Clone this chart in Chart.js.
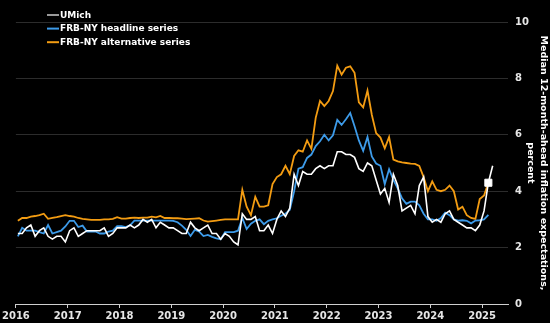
<!DOCTYPE html>
<html>
<head>
<meta charset="utf-8">
<script src="https://cdn.jsdelivr.net/npm/chart.js@4.4.1/dist/chart.umd.min.js"></script>
<style>
  html, body { margin: 0; padding: 0; background: #000; }
  canvas { display: block; }
</style>
</head>
<body>
<canvas id="inflChart" width="550" height="323"></canvas>
<script>
    // monthly series, starting Jan 2016
    const startYear = 2016;
    const yearTicks = [2016, 2017, 2018, 2019, 2020, 2021, 2022, 2023, 2024, 2025];
    const yTicks = [0, 2, 4, 6, 8, 10];

    const seriesNames = ['UMich', 'FRB-NY headline series', 'FRB-NY alternative series'];

    const umich = [
      2.5, 2.5, 2.7, 2.8, 2.4, 2.6, 2.7, 2.4, 2.3, 2.4, 2.4, 2.2,
      2.6, 2.7, 2.4, 2.5, 2.6, 2.6, 2.6, 2.6, 2.7, 2.4, 2.5, 2.7,
      2.7, 2.7, 2.8, 2.7, 2.8, 3.0, 2.9, 3.0, 2.7, 2.9, 2.8, 2.7,
      2.7, 2.6, 2.5, 2.5, 2.9, 2.7, 2.6, 2.7, 2.8, 2.5, 2.5, 2.3,
      2.5, 2.4, 2.2, 2.1, 3.2, 3.0, 3.0, 3.1, 2.6, 2.6, 2.8, 2.5,
      3.0, 3.3, 3.1, 3.4, 4.6, 4.2, 4.7, 4.6, 4.6, 4.8, 4.9, 4.8,
      4.9, 4.9, 5.4, 5.4, 5.3, 5.3, 5.2, 4.8, 4.7, 5.0, 4.9, 4.4,
      3.9, 4.1, 3.6, 4.6, 4.2, 3.3, 3.4, 3.5, 3.2, 4.2, 4.5, 3.1,
      2.9, 3.0, 2.9, 3.2, 3.3, 3.0, 2.9, 2.8, 2.7, 2.7, 2.6, 2.8,
      3.3, 4.3, 4.9
    ];

    const nyHeadline = [
      2.4, 2.7, 2.6, 2.6, 2.6, 2.55, 2.5, 2.8, 2.5, 2.55, 2.6, 2.75,
      2.95, 2.95, 2.73, 2.78, 2.57, 2.57, 2.57, 2.5, 2.5, 2.57, 2.6, 2.76,
      2.76, 2.73, 2.79, 2.96, 2.96, 2.96, 2.96, 2.96, 2.96, 2.96, 2.96, 2.96,
      2.95, 2.9, 2.78, 2.63, 2.41, 2.63, 2.57, 2.41, 2.45, 2.38, 2.33, 2.3,
      2.55, 2.55, 2.55, 2.6, 3.05, 2.66, 2.85, 2.95, 3.0, 2.83, 2.95, 3.0,
      3.04, 3.13, 3.2, 3.34, 4.0, 4.8, 4.85, 5.18, 5.3, 5.6, 5.77, 6.0,
      5.8, 5.98, 6.53, 6.35, 6.55, 6.77, 6.3, 5.8, 5.43, 5.92, 5.23, 4.98,
      4.9, 4.25, 4.78, 4.4, 4.1, 3.75, 3.55, 3.63, 3.63, 3.5, 3.2, 3.0,
      3.0, 2.95, 3.05, 3.24, 3.15, 3.0, 2.96, 2.97, 2.95, 2.86, 2.96, 2.97,
      3.0, 3.16
    ];

    const nyAlternative = [
      2.95, 3.05, 3.05, 3.1, 3.12, 3.15, 3.2, 3.02, 3.05, 3.08, 3.12, 3.15,
      3.12, 3.1, 3.05, 3.02, 3.0, 2.98, 2.98, 2.98, 3.0, 3.0, 3.02, 3.08,
      3.03, 3.03, 3.05, 3.06, 3.05, 3.06, 3.06, 3.1, 3.07, 3.12, 3.05, 3.05,
      3.04, 3.04, 3.03, 3.01, 3.02, 3.03, 3.04, 2.96, 2.92, 2.94, 2.96, 2.98,
      3.0, 3.0, 3.0, 3.0, 4.05, 3.45, 3.15, 3.8, 3.45, 3.45, 3.5, 4.25,
      4.5, 4.6, 4.9, 4.6, 5.25, 5.45, 5.4, 5.8, 5.5, 6.6, 7.2, 7.02,
      7.2, 7.55, 8.45, 8.13, 8.38, 8.43, 8.2, 7.15, 6.97, 7.57, 6.71, 6.06,
      5.9, 5.52, 5.92, 5.12, 5.06, 5.02, 5.0, 4.98, 4.97, 4.9, 4.5, 4.0,
      4.35, 4.05, 4.0, 4.05, 4.2, 4.0, 3.35, 3.45, 3.15, 3.05, 3.02, 3.72,
      3.85, 4.3
    ];

    const lineColors = ['#ffffff', '#3d9be9', '#f39c12'];
    const baseFont = 'DejaVu Sans';

    function toPoints(values) {
      return values.map((v, i) => ({ x: startYear + (i + 0.45) / 12, y: v }));
    }

    // little legend in the top left corner, drawn over the plot
    const cornerLegend = {
      id: 'cornerLegend',
      afterDraw(chart) {
        const { ctx } = chart;
        ctx.save();
        ctx.font = 'bold 9px "' + baseFont + '"';
        ctx.textBaseline = 'middle';
        ctx.textAlign = 'left';
        chart.data.datasets.forEach((ds, i) => {
          const y = 15 + i * 13.6;
          ctx.strokeStyle = ds.borderColor;
          ctx.lineWidth = i === 0 ? 1.2 : 2;
          ctx.beginPath();
          ctx.moveTo(47, y);
          ctx.lineTo(59, y);
          ctx.stroke();
          ctx.fillStyle = '#ffffff';
          ctx.fillText(ds.label, 60, y + 0.5);
        });
        ctx.restore();
      }
    };

    const lastAlt = nyAlternative.length - 1;

    const ctx1 = document.getElementById('inflChart').getContext('2d');
    const chart = new Chart(ctx1, {
      type: 'line',
      data: {
        datasets: [{
          label: seriesNames[0],
          data: toPoints(umich),
          borderColor: lineColors[0],
          borderWidth: 1.6,
          pointRadius: 0
        }, {
          label: seriesNames[1],
          data: toPoints(nyHeadline),
          borderColor: lineColors[1],
          borderWidth: 1.8,
          pointRadius: 0
        }, {
          label: seriesNames[2],
          data: toPoints(nyAlternative),
          borderColor: lineColors[2],
          borderWidth: 1.8,
          pointStyle: 'rect',
          pointRadius: c => c.dataIndex === lastAlt ? 5 : 0,
          pointBackgroundColor: '#ffffff',
          pointBorderColor: '#ffffff',
          pointBorderWidth: 1
        }]
      },
      options: {
        responsive: false,
        animation: false,
        layout: { padding: { left: 13, top: 22, right: 0, bottom: 0 } },
        plugins: {
          legend: { display: false },
          tooltip: { enabled: false }
        },
        scales: {
          x: {
            type: 'linear',
            min: 2016,
            max: 2025.5,
            afterFit(scale) { scale.height = 19; },
            afterBuildTicks(scale) {
              scale.ticks = yearTicks.map(v => ({ value: v }));
            },
            ticks: {
              color: '#e6e6e6',
              font: { family: baseFont, size: 10, weight: 'bold' },
              padding: 2,
              maxRotation: 0,
              autoSkip: false,
              callback: v => String(v)
            },
            grid: {
              drawOnChartArea: false,
              drawTicks: true,
              tickLength: 4,
              color: '#cfcfcf'
            },
            border: { display: true, color: '#cfcfcf', width: 1 }
          },
          y: {
            position: 'right',
            min: 0,
            max: 10,
            afterFit(scale) { scale.width = 42; },
            afterBuildTicks(scale) {
              scale.ticks = yTicks.map(v => ({ value: v }));
            },
            ticks: {
              color: '#e6e6e6',
              font: { family: baseFont, size: 10, weight: 'bold' },
              padding: 7
            },
            grid: {
              color: c => c.tick && c.tick.value === 0 ? 'rgba(0,0,0,0)' : '#2c2c2c',
              drawTicks: false
            },
            border: { display: false },
            title: {
              display: true,
              text: ['Median 12-month-ahead inflation expectations,', 'percent'],
              color: '#ffffff',
              font: { family: baseFont, size: 9.5, weight: 'bold', lineHeight: 1.37 },
              padding: { top: 0.5, bottom: 0 }
            }
          }
        }
      },
      plugins: [cornerLegend]
    });
</script>
</body>
</html>
